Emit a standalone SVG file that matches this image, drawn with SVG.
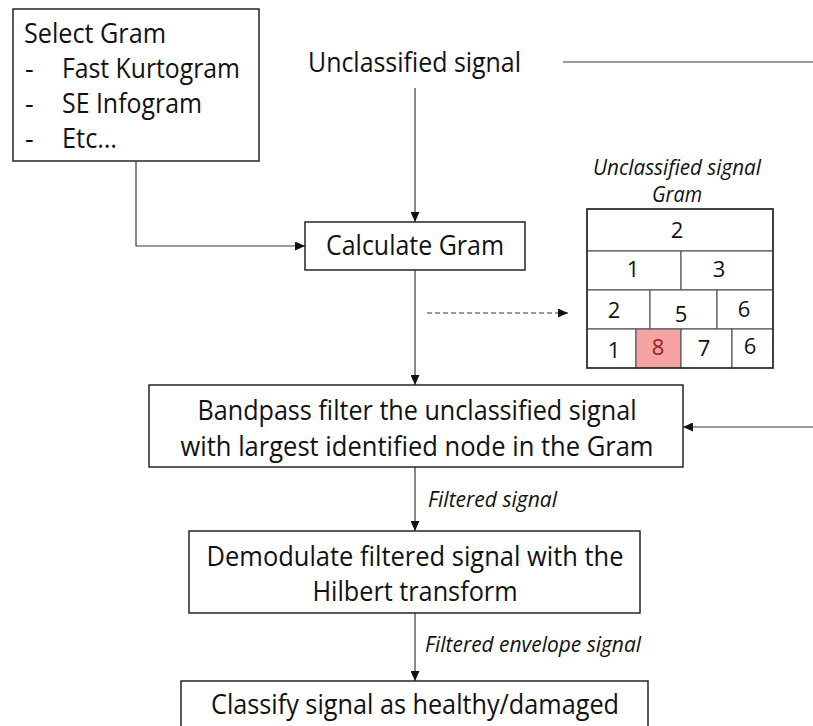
<svg xmlns="http://www.w3.org/2000/svg" width="813" height="726" viewBox="0 0 813 726">
  <defs>
    <style>
      .box { fill: #ffffff; stroke: #262626; stroke-width: 1.5; }
      .lbl { font-family: "Open Sans", "Noto Sans", sans-serif; font-size: 27px; fill: #111111; }
      .mid { text-anchor: middle; }
      .note { font-family: "Open Sans", "Noto Sans", sans-serif; font-size: 21px; font-style: italic; fill: #111111; }
      .num { font-family: "Open Sans", "Noto Sans", sans-serif; font-size: 22px; fill: #111111; text-anchor: middle; }
      .wire { fill: none; stroke: #3a3a3a; stroke-width: 1.2; }
      .dash { stroke-dasharray: 5 3; }
      .cell { fill: #ffffff; stroke: #5a5a5a; stroke-width: 1.2; }
    </style>
    <marker id="arrow" markerUnits="userSpaceOnUse" markerWidth="10" markerHeight="9" refX="10" refY="4.5" orient="auto">
      <path d="M0,0 L10,4.5 L0,9 z" fill="#111111"/>
    </marker>
  </defs>

  <!-- connectors -->
  <g id="connectors">
    <path class="wire" d="M415,88 V222" marker-end="url(#arrow)"/>
    <path class="wire" d="M136,161 V246 H305" marker-end="url(#arrow)"/>
    <path class="wire" d="M415,270 V385" marker-end="url(#arrow)"/>
    <path class="wire dash" d="M427,313 H568" marker-end="url(#arrow)"/>
    <path class="wire" d="M563,62 H813"/>
    <path class="wire" d="M813,427 H683" marker-end="url(#arrow)"/>
    <path class="wire" d="M415,467 V531" marker-end="url(#arrow)"/>
    <path class="wire" d="M415,613 V681" marker-end="url(#arrow)"/>
    <text class="note" x="428" y="507" textLength="129" lengthAdjust="spacingAndGlyphs">Filtered signal</text>
    <text class="note" x="425" y="652" textLength="216" lengthAdjust="spacingAndGlyphs">Filtered envelope signal</text>
  </g>

  <!-- gram selection -->
  <g id="select-gram">
    <rect class="box" x="13" y="9" width="246" height="152"/>
    <text class="lbl" x="24" y="43" textLength="142" lengthAdjust="spacingAndGlyphs">Select Gram</text>
    <text class="lbl" x="25" y="78">-</text>
    <text class="lbl" x="62" y="78" textLength="178" lengthAdjust="spacingAndGlyphs">Fast Kurtogram</text>
    <text class="lbl" x="25" y="113">-</text>
    <text class="lbl" x="62" y="113" textLength="140" lengthAdjust="spacingAndGlyphs">SE Infogram</text>
    <text class="lbl" x="25" y="148">-</text>
    <text class="lbl" x="62" y="148" textLength="55" lengthAdjust="spacingAndGlyphs">Etc…</text>
  </g>

  <!-- input signal -->
  <g id="input-signal">
    <text class="lbl" x="308" y="72" textLength="213" lengthAdjust="spacingAndGlyphs">Unclassified signal</text>
  </g>

  <!-- gram calculation -->
  <g id="calculate-gram">
    <rect class="box" x="305" y="222" width="220" height="48"/>
    <text class="lbl mid" x="415" y="255" textLength="178" lengthAdjust="spacingAndGlyphs">Calculate Gram</text>
  </g>

  <!-- example gram -->
  <g id="gram">
    <text class="note mid" x="677" y="175" textLength="168" lengthAdjust="spacingAndGlyphs">Unclassified signal</text>
    <text class="note mid" x="677" y="202" textLength="50" lengthAdjust="spacingAndGlyphs">Gram</text>
    <rect class="cell" x="587" y="209" width="186" height="42"/>
    <rect class="cell" x="587" y="251" width="94" height="39"/>
    <rect class="cell" x="681" y="251" width="92" height="39"/>
    <rect class="cell" x="587" y="290" width="63" height="39"/>
    <rect class="cell" x="650" y="290" width="67" height="39"/>
    <rect class="cell" x="717" y="290" width="56" height="39"/>
    <rect class="cell" x="587" y="329" width="49" height="39"/>
    <rect class="cell" x="636" y="329" width="45" height="39" style="fill:#f5a3a3"/>
    <rect class="cell" x="681" y="329" width="51" height="39"/>
    <rect class="cell" x="732" y="329" width="41" height="39"/>
    <rect x="587" y="209" width="186" height="159" fill="none" stroke="#262626" stroke-width="1.5"/>
    <text class="num" x="677" y="238">2</text>
    <text class="num" x="633" y="277">1</text>
    <text class="num" x="719" y="277">3</text>
    <text class="num" x="614" y="318">2</text>
    <text class="num" x="681" y="322">5</text>
    <text class="num" x="744" y="317">6</text>
    <text class="num" x="614" y="358">1</text>
    <text class="num" x="658" y="355" style="fill:#9c1c1c">8</text>
    <text class="num" x="704" y="356">7</text>
    <text class="num" x="750" y="354">6</text>
  </g>

  <!-- bandpass filtering -->
  <g id="bandpass">
    <rect class="box" x="149" y="385" width="534" height="82"/>
    <text class="lbl mid" x="417" y="420" textLength="439" lengthAdjust="spacingAndGlyphs">Bandpass filter the unclassified signal</text>
    <text class="lbl mid" x="417" y="456" textLength="473" lengthAdjust="spacingAndGlyphs">with largest identified node in the Gram</text>
  </g>

  <!-- envelope demodulation -->
  <g id="demodulate">
    <rect class="box" x="189" y="531" width="451" height="82"/>
    <text class="lbl mid" x="415" y="566" textLength="417" lengthAdjust="spacingAndGlyphs">Demodulate filtered signal with the</text>
    <text class="lbl mid" x="415" y="601" textLength="205" lengthAdjust="spacingAndGlyphs">Hilbert transform</text>
  </g>

  <!-- classification -->
  <g id="classify">
    <path class="box" d="M181,727 V681 H648 V727"/>
    <text class="lbl mid" x="415" y="714" textLength="408" lengthAdjust="spacingAndGlyphs">Classify signal as healthy/damaged</text>
  </g>
</svg>
